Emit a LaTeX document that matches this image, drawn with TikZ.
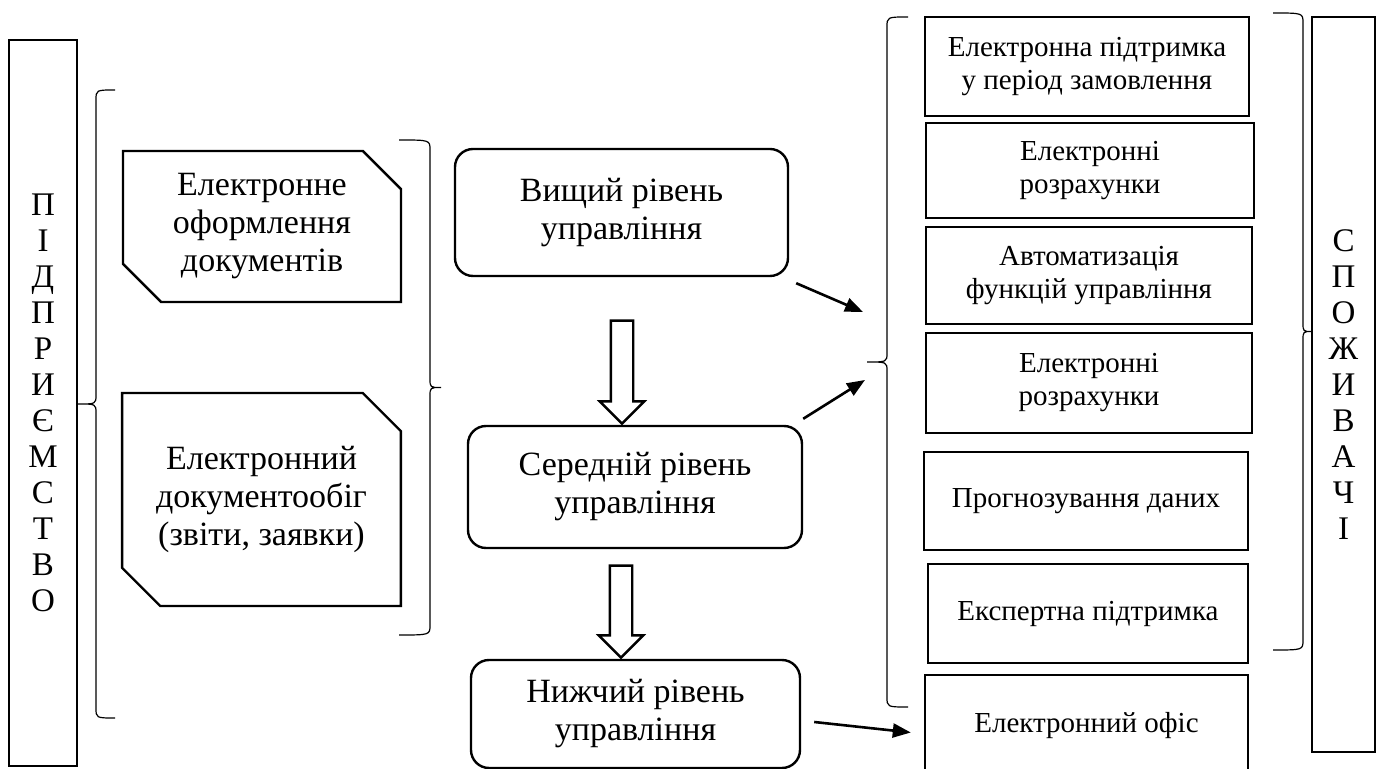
\documentclass[tikz,border=0pt]{standalone}
\usepackage{fontspec}
\setmainfont{Liberation Serif}
\usepackage{tikz}
\usetikzlibrary{calc}
\usetikzlibrary{shapes.misc, shapes.arrows, arrows.meta}
\tikzstyle{arrow} = [line width=1.3pt,-{Triangle[length=9pt,width=7pt]}]

\begin{document}
\begin{tikzpicture}[
				x=0.5pt, y=-0.5pt,
				side/.style= {draw, line width=1pt, align=center, inner sep=0pt, font = {\fontsize{16.5}{18}\selectfont}},
				doc/.style= {draw, line width=1.2pt, chamfered rectangle, chamfered rectangle corners={north east, south west}, chamfered rectangle xsep=16pt, inner xsep=1pt, align=center, font = {\fontsize{17}{19}\selectfont}},
				level/.style= {draw, line width=1.2pt, rounded corners=9pt, align=center, font = {\fontsize{17}{19}\selectfont}},
				serv/.style= {draw, line width=1.2pt, align=center, font = {\fontsize{14.5}{16.5}\selectfont}},
				down/.style= {draw, line width=1.2pt, single arrow, shape border rotate=270, inner sep=5pt, single arrow head extend=5.5pt, single arrow tip angle=90},
				brace/.style= {line width=0.6pt}
			]
			\useasboundingbox (0,0) rectangle (1389,769);
			
			% braces: end x, line x, tip x, top y, middle y, bottom y
			\foreach \xe/\xv/\xt/\ya/\ym/\yb in {115/96/78/90/404/718, 399/430/441/140/387.5/635, 908/887/867/17/362/707, 1273/1303/1312/13/331.5/650}{
				\draw [brace] (\xe,\ya) .. controls (\xv,\ya) .. (\xv,\ya+10) -- (\xv,\ym-9) .. controls (\xv,\ym) .. (\xt,\ym) .. controls (\xv,\ym) .. (\xv,\ym+9) -- (\xv,\yb-10) .. controls (\xv,\yb) .. (\xe,\yb);
			}
			
			\node (pidpr) [side, minimum width=34pt, minimum height=363pt] at (43,403) {П\\І\\Д\\П\\Р\\И\\Є\\М\\С\\Т\\В\\О};
			\node (spozh) [side, minimum width=31.5pt, minimum height=367.5pt] at (1343.5,384.5) {С\\П\\О\\Ж\\И\\В\\А\\Ч\\І};
			
			\node (doc1) [doc, minimum width=139pt, minimum height=75.5pt] at (262,226.5) {Електронне\\оформлення\\документів};
			\node (doc2) [doc, minimum width=138.5pt, minimum height=106.5pt] at (261.5,499.5) {Електронний\\документообіг\\(звіти, заявки)};
			
			\node (top) [level, minimum width=166.5pt, minimum height=63.5pt] at (621.5,212.5) {Вищий рівень\\управління};
			\node (mid) [level, minimum width=167pt, minimum height=61pt] at (635,487) {Середній рівень\\управління};
			\node (low) [level, minimum width=164.5pt, minimum height=54pt] at (635.5,714) {Нижчий рівень\\управління};
			
			\node (down1) [down, minimum height=51.5pt] at (622,366.5) {};
			\node (down2) [down, minimum height=46pt] at (621,606) {};
			
			\node (r1) [serv, minimum width=162pt, minimum height=49.5pt] at (1087,66.5) {Електронна підтримка\\у період замовлення};
			\node (r2) [serv, minimum width=164pt, minimum height=47.5pt] at (1090,170.5) {Електронні\\розрахунки};
			\node (r3) [serv, minimum width=163pt, minimum height=48.5pt] at (1089,275.5) {Автоматизація\\функцій управління};
			\node (r4) [serv, minimum width=163pt, minimum height=50pt] at (1089,383) {Електронні\\розрахунки};
			\node (r5) [serv, minimum width=162pt, minimum height=49pt] at (1086,501) {Прогнозування даних};
			\node (r6) [serv, minimum width=160pt, minimum height=49.5pt] at (1088,613.5) {Експертна підтримка};
			\node (r7) [serv, minimum width=161.5pt, minimum height=50.5pt] at (1086.5,725.5) {Електронний офіс};
			
			\coordinate (in1) at (863,312);
			\coordinate (in2) at (865,380);
			
			\draw [arrow] ($(top.south east)+(7,6)$) -- (in1);
			\draw [arrow] ($(mid.north east)+(0,-6)$) -- (in2);
			\draw [arrow] ($(low.east)+(13,8)$) -- ($(r7.west)+(-13,7)$);
		\end{tikzpicture}
\end{document}
